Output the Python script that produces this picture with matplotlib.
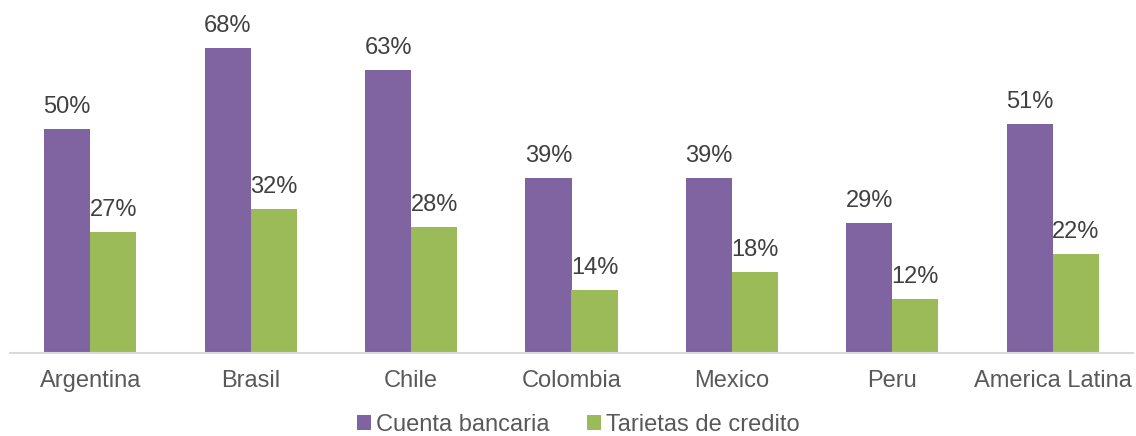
import numpy as np
import matplotlib.pyplot as plt

plt.rcParams['font.family'] = ['Liberation Sans', 'DejaVu Sans']

paises = ['Argentina', 'Brasil', 'Chile', 'Colombia', 'Mexico', 'Peru', 'America Latina']
cuenta = [50, 68, 63, 39, 39, 29, 51]
tarjetas = [27, 32, 28, 14, 18, 12, 22]

morado = '#8064A2'
verde = '#9BBB59'

fig = plt.figure(figsize=(11.36, 4.36), dpi=100)
ax = fig.add_axes([10 / 1136, 83 / 436, 1123 / 1136, 314 / 436])

x = np.arange(len(paises))
w = 0.287
b1 = ax.bar(x - w / 2, cuenta, w, color=morado, label='Cuenta bancaria')
b2 = ax.bar(x + w / 2, tarjetas, w, color=verde, label='Tarietas de credito')

# etiquetas de porcentaje encima de cada barra
for barras in (b1, b2):
    for rect in barras:
        v = rect.get_height()
        ax.annotate(f'{v:.0f}%', (rect.get_x() + rect.get_width() / 2, v),
                    xytext=(0, 8), textcoords='offset points',
                    ha='center', va='bottom', fontsize=17, color='#404040',
                    annotation_clip=False)

ax.set_xlim(-0.5, len(paises) - 0.5)
ax.set_ylim(0, 70)
ax.set_yticks([])
ax.set_xticks(x)
ax.set_xticklabels(paises, fontsize=17, color='#595959')
ax.tick_params(axis='x', length=0, pad=12)
for lado in ('top', 'right', 'left'):
    ax.spines[lado].set_visible(False)
ax.spines['bottom'].set_color('#D9D9D9')
ax.spines['bottom'].set_linewidth(1.5)

leg = fig.legend(handles=[b1, b2], loc='center', bbox_to_anchor=(578 / 1136, 1 - 425 / 436),
                 ncol=2, frameon=False, fontsize=17, handlelength=0.6, handleheight=0.6,
                 handletextpad=0.2, columnspacing=1.6, borderaxespad=0)
for t in leg.get_texts():
    t.set_color('#595959')

fig.savefig('out.png', dpi=100)
